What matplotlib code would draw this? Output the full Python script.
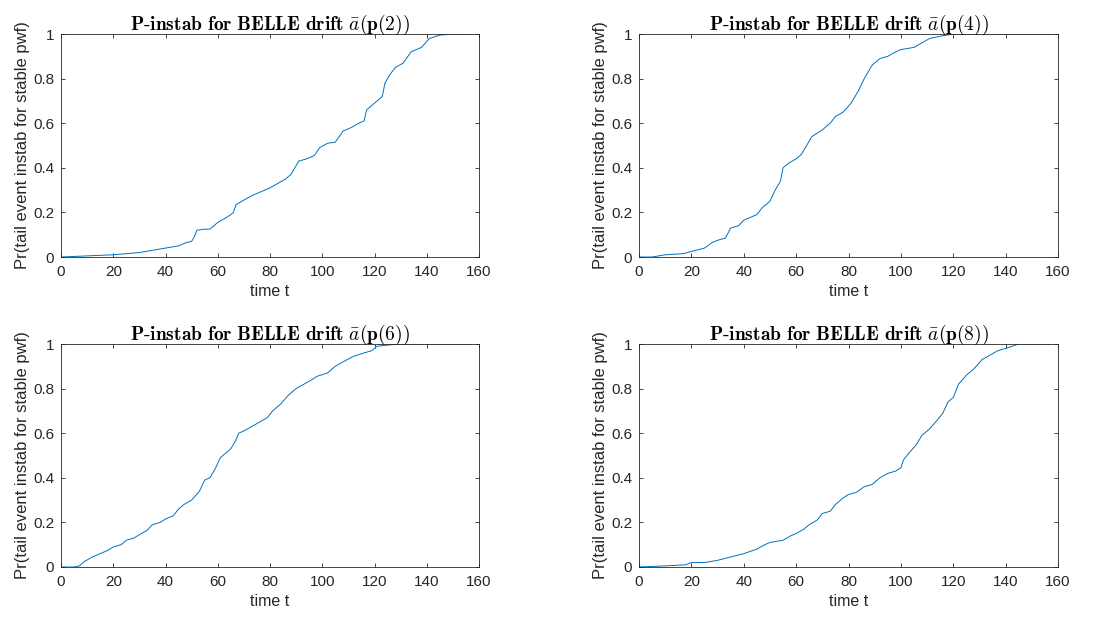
import matplotlib
matplotlib.use("Agg")
import matplotlib.pyplot as plt

plt.rcParams['mathtext.fontset'] = 'cm'
plt.rcParams['font.family'] = ['Liberation Sans', 'DejaVu Sans']

labels = ["2", "4", "6", "8"]

t_p2 = [0, 10, 20, 30, 35, 40, 45, 48, 50, 51, 52, 55, 57, 60, 63, 65, 66, 67, 70, 73, 76, 80, 83, 86, 88, 90,
        91, 94, 97, 99, 102, 105, 108, 111, 114, 116, 117, 120, 123, 124, 126, 128, 131, 134, 138, 141, 145, 150, 156]
y_p2 = [0, 0.005, 0.01, 0.02, 0.03, 0.04, 0.05, 0.065, 0.07, 0.09, 0.12, 0.125, 0.125, 0.155, 0.175, 0.19, 0.2,
        0.235, 0.255, 0.275, 0.29, 0.31, 0.33, 0.35, 0.37, 0.41, 0.43, 0.44, 0.455, 0.49, 0.51, 0.515, 0.565, 0.58,
        0.6, 0.61, 0.66, 0.69, 0.72, 0.78, 0.82, 0.85, 0.87, 0.92, 0.94, 0.98, 0.995, 1.0, 1.0]

t_p4 = [0, 5, 10, 17, 20, 25, 28, 30, 33, 35, 38, 40, 43, 45, 47, 50, 52, 54, 55, 57, 60, 62, 64, 66, 70, 73, 75,
        78, 81, 84, 86, 89, 92, 95, 98, 100, 105, 108, 111, 115, 120, 157]
y_p4 = [0, 0.0, 0.01, 0.015, 0.025, 0.04, 0.065, 0.075, 0.085, 0.13, 0.14, 0.165, 0.18, 0.19, 0.22, 0.25, 0.3, 0.34,
        0.4, 0.42, 0.44, 0.46, 0.5, 0.54, 0.57, 0.6, 0.63, 0.65, 0.69, 0.75, 0.8, 0.86, 0.89, 0.9, 0.92, 0.93, 0.94,
        0.96, 0.98, 0.99, 1.0, 1.0]

t_p6 = [0, 5, 7, 9, 12, 15, 18, 20, 23, 25, 28, 30, 33, 35, 38, 40, 43, 45, 47, 50, 53, 55, 57, 59, 61, 63, 65, 67,
        68, 70, 73, 76, 79, 81, 84, 87, 90, 93, 96, 98, 102, 105, 108, 112, 116, 119, 121, 125, 130, 157]
y_p6 = [0, 0, 0.005, 0.025, 0.045, 0.06, 0.075, 0.09, 0.1, 0.12, 0.13, 0.145, 0.165, 0.19, 0.2, 0.215, 0.23, 0.26,
        0.28, 0.3, 0.34, 0.39, 0.4, 0.44, 0.49, 0.51, 0.53, 0.57, 0.6, 0.61, 0.63, 0.65, 0.67, 0.7, 0.73, 0.77, 0.8,
        0.82, 0.84, 0.855, 0.87, 0.9, 0.92, 0.945, 0.96, 0.97, 0.99, 0.995, 1.0, 1.0]

t_p8 = [0, 10, 18, 20, 25, 30, 35, 40, 45, 48, 50, 55, 58, 60, 63, 65, 68, 70, 73, 75, 78, 80, 83, 86, 89, 92, 95,
        98, 100, 101, 103, 106, 108, 111, 114, 116, 118, 120, 122, 125, 128, 131, 134, 137, 140, 145, 157]
y_p8 = [0, 0.005, 0.01, 0.02, 0.02, 0.03, 0.045, 0.06, 0.08, 0.1, 0.11, 0.12, 0.14, 0.15, 0.17, 0.19, 0.21, 0.24,
        0.25, 0.28, 0.31, 0.325, 0.335, 0.36, 0.37, 0.4, 0.42, 0.43, 0.445, 0.48, 0.51, 0.55, 0.59, 0.62, 0.66, 0.69,
        0.74, 0.76, 0.82, 0.86, 0.89, 0.93, 0.95, 0.97, 0.98, 1.0, 1.0]

series = [(t_p2, y_p2), (t_p4, y_p4), (t_p6, y_p6), (t_p8, y_p8)]

x_ticks = [0, 20, 40, 60, 80, 100, 120, 140, 160]
y_ticks = [0, 0.2, 0.4, 0.6, 0.8, 1]
y_ticklabels = ["0", "0.2", "0.4", "0.6", "0.8", "1"]

W, H = 1102, 617
fig = plt.figure(figsize=(W / 100, H / 100), dpi=100)

# axes boxes in pixels: left, right, top, bottom
boxes = [(61, 479, 34, 257), (639, 1058, 34, 257), (61, 479, 344, 567), (639, 1058, 344, 567)]

edge = '#262626'
for (t, y), lab, (l, r, tp, b) in zip(series, labels, boxes):
    ax = fig.add_axes([l / W, 1 - b / H, (r - l) / W, (b - tp) / H])
    ax.plot(t, y, color='#0072BD', lw=0.7)
    ax.set_xlim(0, 160)
    ax.set_ylim(0, 1)
    ax.set_xticks(x_ticks)
    ax.set_yticks(y_ticks)
    ax.set_yticklabels(y_ticklabels)
    ax.tick_params(direction='in', top=True, right=True, length=3, width=0.6,
                   colors=edge, labelsize=11)
    ax.tick_params(axis='x', pad=6)
    ax.tick_params(axis='y', pad=5)
    for s in ax.spines.values():
        s.set_color(edge)
        s.set_linewidth(0.6)
    ax.set_xlabel('time t', fontsize=11.5, color=edge, labelpad=3)
    ax.set_ylabel('Pr(tail event instab for stable pwf)', fontsize=12, color=edge, labelpad=2)
    ax.set_title(r'$\mathbf{P\text{-}instab\ for\ BELLE\ drift}\ \bar{a}(\mathbf{p(' + lab + r'))}$',
                 fontsize=14, color='black', pad=3)

fig.savefig('out.png', dpi=100)
